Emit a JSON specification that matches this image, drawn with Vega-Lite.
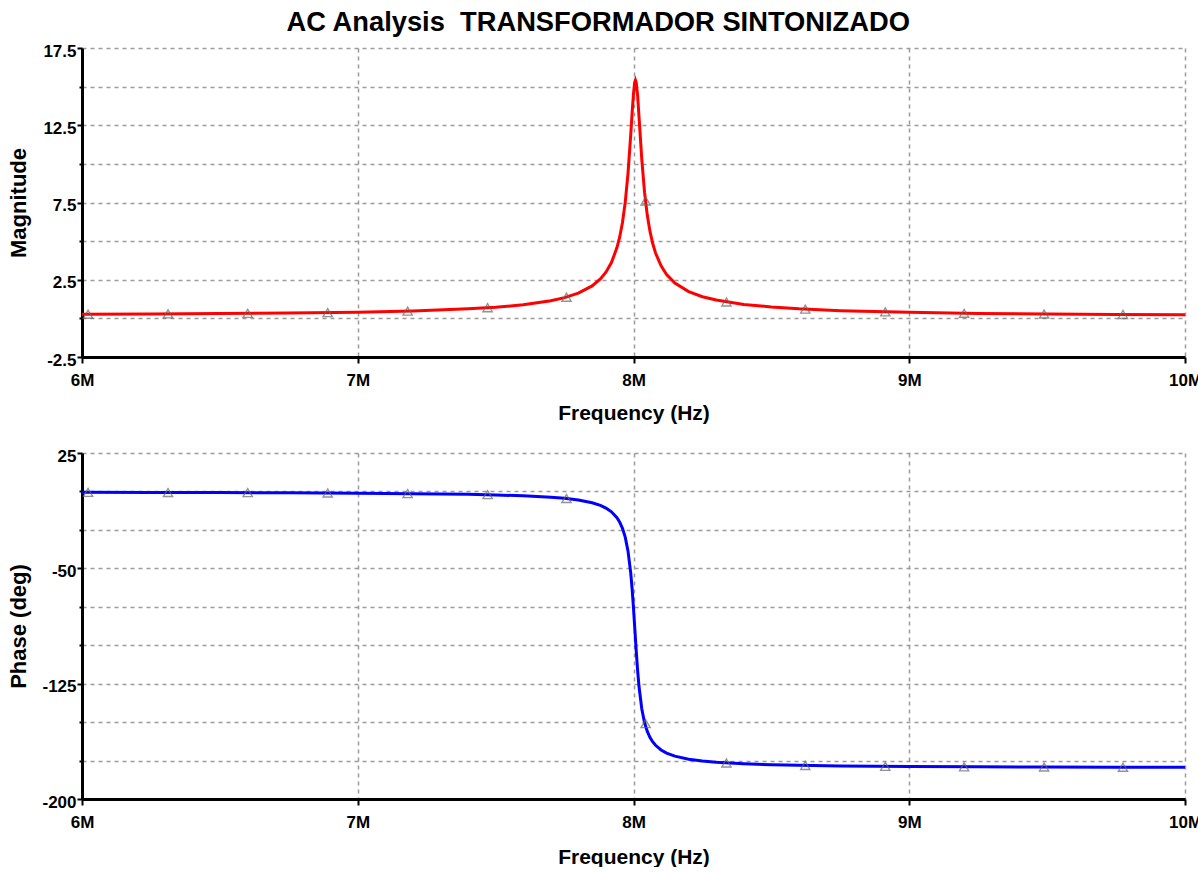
{
  "$schema": "https://vega.github.io/schema/vega-lite/v6.json",
  "background": "white",
  "padding": {"left": 7, "top": 8, "right": 0, "bottom": 0},
  "title": {"text": "AC Analysis\u00a0 TRANSFORMADOR SINTONIZADO", "font": "Liberation Sans", "fontSize": 27.3, "fontWeight": "bold", "color": "black", "anchor": "middle", "offset": 6, "dx": -6},
  "spacing": 96,
  "bounds": "flush",
  "config": {
    "view": {"stroke": null},
    "axis": {
      "domainColor": "black", "domainWidth": 3,
      "tickColor": "black", "tickWidth": 2,
      "labelFont": "Liberation Sans", "labelFontSize": 17, "labelFontWeight": "bold", "labelColor": "black",
      "titleFont": "Liberation Sans", "titleFontWeight": "bold", "titleColor": "black",
      "gridColor": "#9a9a9a", "gridDash": [4, 4], "gridWidth": 1.5, "gridOpacity": 1,
      "labelFlush": false, "labelOverlap": false, "labelBound": false, "tickCount": 30
    }
  },
  "datasets": {
    "mag": [
      {"f": 6.0, "v": 0.27}, {"f": 6.25, "v": 0.29}, {"f": 6.5, "v": 0.31}, {"f": 6.75, "v": 0.35},
      {"f": 7.0, "v": 0.40}, {"f": 7.2, "v": 0.48}, {"f": 7.4, "v": 0.62}, {"f": 7.5, "v": 0.72},
      {"f": 7.6, "v": 0.88}, {"f": 7.7, "v": 1.14}, {"f": 7.75, "v": 1.34}, {"f": 7.8, "v": 1.63},
      {"f": 7.85, "v": 2.10}, {"f": 7.88, "v": 2.55}, {"f": 7.9, "v": 2.99}, {"f": 7.92, "v": 3.61},
      {"f": 7.94, "v": 4.58}, {"f": 7.95, "v": 5.27}, {"f": 7.96, "v": 6.21}, {"f": 7.97, "v": 7.51},
      {"f": 7.98, "v": 9.37}, {"f": 7.99, "v": 11.90}, {"f": 7.995, "v": 13.30}, {"f": 8.0, "v": 14.55},
      {"f": 8.004, "v": 15.25}, {"f": 8.007, "v": 15.42}, {"f": 8.01, "v": 15.25}, {"f": 8.015, "v": 14.40},
      {"f": 8.02, "v": 13.05}, {"f": 8.03, "v": 10.31}, {"f": 8.04, "v": 8.17}, {"f": 8.05, "v": 6.67},
      {"f": 8.06, "v": 5.61}, {"f": 8.07, "v": 4.83}, {"f": 8.08, "v": 4.23}, {"f": 8.1, "v": 3.40},
      {"f": 8.12, "v": 2.84}, {"f": 8.15, "v": 2.28}, {"f": 8.2, "v": 1.73}, {"f": 8.25, "v": 1.40},
      {"f": 8.3, "v": 1.19}, {"f": 8.4, "v": 0.90}, {"f": 8.5, "v": 0.74}, {"f": 8.6, "v": 0.62},
      {"f": 8.75, "v": 0.50}, {"f": 9.0, "v": 0.39}, {"f": 9.25, "v": 0.32}, {"f": 9.5, "v": 0.28},
      {"f": 9.75, "v": 0.25}, {"f": 10.0, "v": 0.23}
    ],
    "magMarks": [
      {"f": 6.022, "v": 0.27}, {"f": 6.312, "v": 0.29}, {"f": 6.601, "v": 0.32}, {"f": 6.891, "v": 0.37},
      {"f": 7.181, "v": 0.47}, {"f": 7.471, "v": 0.69}, {"f": 7.757, "v": 1.37}, {"f": 8.044, "v": 7.6},
      {"f": 8.337, "v": 1.06}, {"f": 8.623, "v": 0.60}, {"f": 8.913, "v": 0.42}, {"f": 9.199, "v": 0.33},
      {"f": 9.489, "v": 0.28}, {"f": 9.775, "v": 0.25}
    ],
    "phase": [
      {"f": 6.0, "p": -0.57}, {"f": 6.25, "p": -0.65}, {"f": 6.5, "p": -0.76}, {"f": 6.75, "p": -0.91},
      {"f": 7.0, "p": -1.14}, {"f": 7.2, "p": -1.42}, {"f": 7.4, "p": -1.89}, {"f": 7.5, "p": -2.27},
      {"f": 7.6, "p": -2.83}, {"f": 7.7, "p": -3.75}, {"f": 7.75, "p": -4.48}, {"f": 7.8, "p": -5.57},
      {"f": 7.85, "p": -7.35}, {"f": 7.88, "p": -9.09}, {"f": 7.9, "p": -10.78}, {"f": 7.92, "p": -13.24},
      {"f": 7.94, "p": -17.10}, {"f": 7.95, "p": -19.98}, {"f": 7.96, "p": -23.96}, {"f": 7.97, "p": -29.74},
      {"f": 7.98, "p": -38.66}, {"f": 7.99, "p": -53.13}, {"f": 7.995, "p": -63.43}, {"f": 8.0, "p": -75.96},
      {"f": 8.005, "p": -90.0}, {"f": 8.01, "p": -104.04}, {"f": 8.015, "p": -116.57}, {"f": 8.02, "p": -126.87},
      {"f": 8.03, "p": -141.34}, {"f": 8.04, "p": -150.26}, {"f": 8.05, "p": -156.04}, {"f": 8.06, "p": -160.02},
      {"f": 8.07, "p": -162.90}, {"f": 8.08, "p": -165.07}, {"f": 8.1, "p": -168.11}, {"f": 8.12, "p": -170.13},
      {"f": 8.15, "p": -172.15}, {"f": 8.2, "p": -174.14}, {"f": 8.25, "p": -175.33}, {"f": 8.3, "p": -176.12},
      {"f": 8.4, "p": -177.10}, {"f": 8.5, "p": -177.69}, {"f": 8.6, "p": -178.07}, {"f": 8.75, "p": -178.46},
      {"f": 9.0, "p": -178.85}, {"f": 9.25, "p": -179.08}, {"f": 9.5, "p": -179.23}, {"f": 9.75, "p": -179.34},
      {"f": 10.0, "p": -179.43}
    ],
    "phaseMarks": [
      {"f": 6.022, "p": -0.6}, {"f": 6.312, "p": -0.7}, {"f": 6.601, "p": -0.8}, {"f": 6.891, "p": -1.0},
      {"f": 7.181, "p": -1.4}, {"f": 7.471, "p": -2.1}, {"f": 7.757, "p": -4.6}, {"f": 8.044, "p": -151.0},
      {"f": 8.337, "p": -176.6}, {"f": 8.623, "p": -178.2}, {"f": 8.913, "p": -178.8}, {"f": 9.199, "p": -179.1},
      {"f": 9.489, "p": -179.2}, {"f": 9.775, "p": -179.35}
    ]
  },
  "vconcat": [
    {
      "width": 1103,
      "height": 309,
      "layer": [
        {
          "data": {"name": "mag"},
          "mark": {"type": "line", "color": "#ff0000", "strokeWidth": 3},
          "encoding": {
            "x": {"field": "f", "type": "quantitative", "scale": {"domain": [6, 10], "nice": false, "zero": false},
              "axis": {"title": "Frequency (Hz)", "values": [6, 7, 8, 9, 10], "tickCount": 30, "labelExpr": "datum.value + 'M'",
                "tickSize": 6, "labelPadding": 9, "titleFontSize": 21, "titleY": 56, "titleBaseline": "middle", "grid": true}},
            "y": {"field": "v", "type": "quantitative", "scale": {"domain": [-2.5, 17.5], "nice": false, "zero": false},
              "axis": {"title": "Magnitude", "values": [-2.5, 0, 2.5, 5, 7.5, 10, 12.5, 15, 17.5], "tickCount": 30,
                "labelExpr": "(datum.value + 2.5) % 5 == 0 ? '' + datum.value : ''",
                "tickSize": {"condition": {"test": "(datum.value + 2.5) % 5 == 0", "value": 5}, "value": 3},
                "labelPadding": 1, "labelOffset": 3, "titleFontSize": 22, "titleX": -64, "titleY": 154.5,
                "titleBaseline": "middle", "titleAlign": "center", "titleAngle": -90, "grid": true}}
          }
        },
        {
          "data": {"name": "magMarks"},
          "mark": {"type": "point", "shape": "triangle-up", "filled": false, "stroke": "#666666", "strokeWidth": 1.4, "size": 85},
          "encoding": {
            "x": {"field": "f", "type": "quantitative"},
            "y": {"field": "v", "type": "quantitative"}
          }
        }
      ]
    },
    {
      "width": 1103,
      "height": 346,
      "layer": [
        {
          "data": {"name": "phase"},
          "mark": {"type": "line", "color": "#0000ff", "strokeWidth": 3},
          "encoding": {
            "x": {"field": "f", "type": "quantitative", "scale": {"domain": [6, 10], "nice": false, "zero": false},
              "axis": {"title": "Frequency (Hz)", "values": [6, 7, 8, 9, 10], "tickCount": 30, "labelExpr": "datum.value + 'M'",
                "tickSize": 6, "labelPadding": 9, "titleFontSize": 21, "titleY": 58, "titleBaseline": "middle", "grid": true}},
            "y": {"field": "p", "type": "quantitative", "scale": {"domain": [-200, 25], "nice": false, "zero": false},
              "axis": {"title": "Phase (deg)", "values": [25, 0, -25, -50, -75, -100, -125, -150, -175, -200], "tickCount": 30,
                "labelExpr": "(25 - datum.value) % 75 == 0 ? '' + datum.value : ''",
                "tickSize": {"condition": {"test": "(25 - datum.value) % 75 == 0", "value": 5}, "value": 3},
                "labelPadding": 1, "labelOffset": 3, "titleFontSize": 22, "titleX": -64, "titleY": 173,
                "titleBaseline": "middle", "titleAlign": "center", "titleAngle": -90, "grid": true}}
          }
        },
        {
          "data": {"name": "phaseMarks"},
          "mark": {"type": "point", "shape": "triangle-up", "filled": false, "stroke": "#666666", "strokeWidth": 1.4, "size": 85},
          "encoding": {
            "x": {"field": "f", "type": "quantitative"},
            "y": {"field": "p", "type": "quantitative"}
          }
        }
      ]
    }
  ]
}
